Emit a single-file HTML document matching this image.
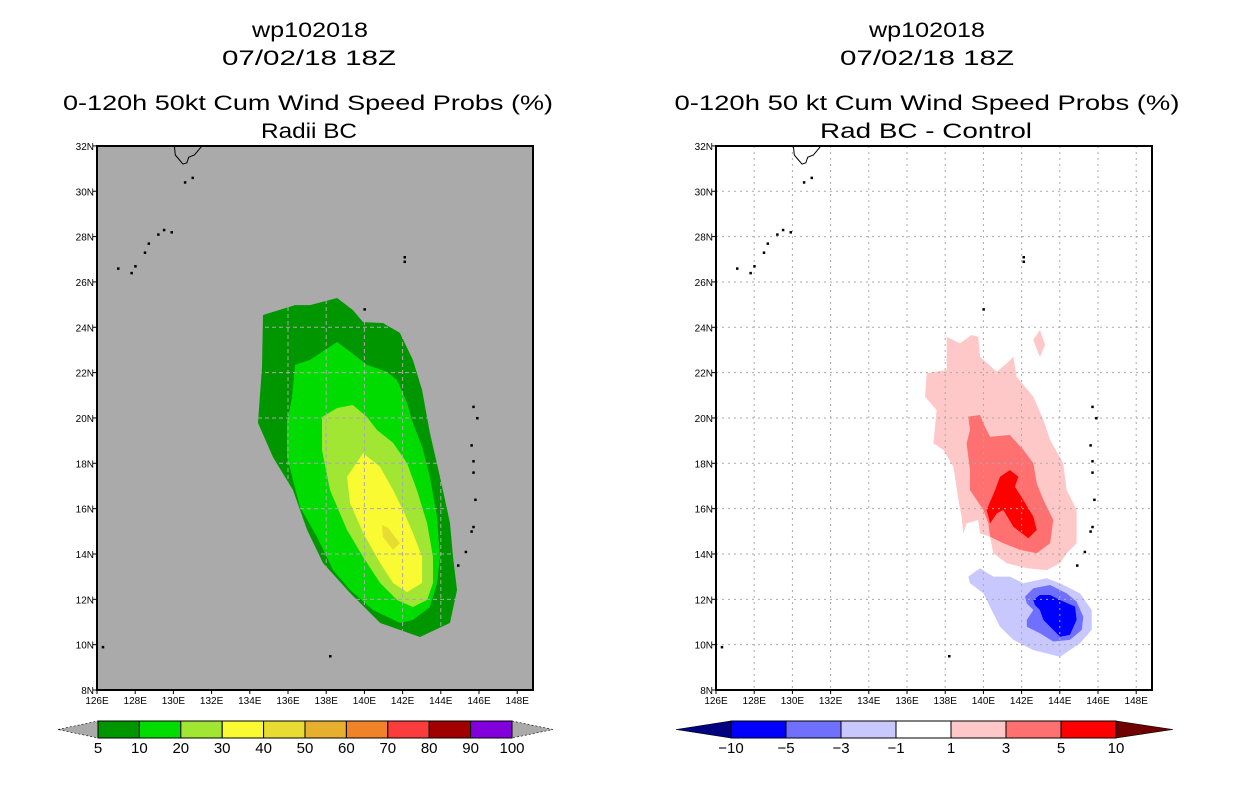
<!DOCTYPE html>
<html><head><meta charset="utf-8"><style>
html,body{margin:0;padding:0;background:#fff;}
svg{display:block;font-family:"Liberation Sans",sans-serif;}
</style></head><body>
<svg id="fig" width="1236" height="800" viewBox="0 0 1236 800">
<g font-size="21" text-anchor="middle" fill="#000">
<text x="310" y="37" textLength="116" lengthAdjust="spacingAndGlyphs">wp102018</text>
<text x="309" y="65" textLength="174" lengthAdjust="spacingAndGlyphs">07/02/18 18Z</text>
<text x="308" y="110" textLength="490" lengthAdjust="spacingAndGlyphs">0-120h 50kt Cum Wind Speed Probs (%)</text>
<text x="309" y="138" textLength="96" lengthAdjust="spacingAndGlyphs">Radii BC</text>
</g>
<g font-size="21" text-anchor="middle" fill="#000">
<text x="927" y="37" textLength="116" lengthAdjust="spacingAndGlyphs">wp102018</text>
<text x="927" y="65" textLength="174" lengthAdjust="spacingAndGlyphs">07/02/18 18Z</text>
<text x="927" y="110" textLength="505" lengthAdjust="spacingAndGlyphs">0-120h 50 kt Cum Wind Speed Probs (%)</text>
<text x="926" y="138" textLength="212" lengthAdjust="spacingAndGlyphs">Rad BC - Control</text>
</g>
<g id="leftMap"></g>
<g id="rightMap"></g>
<g id="leftBar"></g>
<g id="rightBar"></g>
</svg>
<script>
// ---- data (lon, lat) ----
const lonTicks = [126,128,130,132,134,136,138,140,142,144,146,148];
const latTicks = [8,10,12,14,16,18,20,22,24,26,28,30,32];
const probLevels = ['5','10','20','30','40','50','60','70','80','90','100'];
const probColors = ['#009600','#00dc00','#a0e632','#fafa32','#e6dc32','#e6af2d','#f08228','#fa3c3c','#a00000','#8200dc'];
const diffLevels = ['-10','-5','-3','-1','1','3','5','10'];
const diffColors = ['#0000ff','#7070ff','#c8c8ff','#ffffff','#ffc8c8','#ff7070','#ff0000'];
const prob5 = [[134.69,24.54],[136.37,24.98],[137.15,24.98],[138.57,25.29],[139.40,24.76],[139.93,24.23],[140.97,24.19],[141.86,23.75],[142.54,22.56],[143.02,21.23],[143.43,19.34],[143.96,17.40],[144.48,15.37],[144.64,13.87],[144.85,12.41],[144.48,10.96],[142.91,10.34],[140.82,10.96],[139.25,12.28],[137.83,13.60],[137.0,15.06],[136.26,16.82],[135.21,18.28],[134.43,19.78],[134.64,22.25]];
const prob10 = [[136.37,22.34],[137.15,22.56],[138.57,23.35],[139.61,22.69],[140.14,22.34],[141.18,22.03],[141.71,21.67],[142.23,20.66],[142.54,19.78],[143.02,18.72],[143.43,17.40],[143.80,15.63],[143.96,13.87],[143.80,12.72],[143.43,11.66],[142.54,11.09],[141.86,10.96],[140.45,11.53],[139.25,12.41],[138.36,13.29],[137.52,14.75],[136.63,16.07],[135.95,18.28],[135.95,19.78],[136.21,20.92]];
const prob20 = [[137.78,20.04],[138.57,20.44],[139.40,20.57],[140.14,20.04],[140.66,19.47],[141.50,18.90],[142.23,18.01],[142.75,16.82],[143.28,15.37],[143.59,13.87],[143.59,12.72],[143.28,11.97],[142.54,11.66],[141.71,11.97],[140.82,12.72],[139.93,13.87],[139.09,15.06],[138.20,16.82],[137.78,18.59]];
const prob30 = [[139.09,17.40],[139.93,18.45],[140.82,17.84],[141.50,16.82],[142.02,15.94],[142.54,14.93],[143.02,13.87],[143.02,12.72],[142.23,12.32],[141.50,12.72],[140.82,13.60],[139.93,14.93],[139.25,16.25]];
const prob40 = [[140.92,15.28],[141.24,15.15],[141.86,14.48],[141.50,14.18],[140.97,14.75]];
const diffP1 = [[138.08,23.58],[138.77,23.29],[139.39,23.66],[139.73,23.58],[139.82,22.70],[140.70,22.04],[141.22,22.41],[141.57,22.70],[141.74,21.82],[142.61,20.94],[143.14,19.91],[143.49,19.03],[144.18,18.00],[144.36,16.82],[144.88,15.94],[144.88,14.47],[144.36,14.03],[144.01,13.59],[143.31,13.29],[142.27,13.37],[141.22,13.59],[140.52,14.03],[140.35,14.76],[139.82,14.91],[139.73,15.50],[139.12,15.35],[138.95,14.91],[138.86,15.64],[138.69,16.38],[138.43,17.85],[137.90,18.59],[137.38,18.88],[137.55,20.35],[136.94,20.94],[137.03,21.97],[138.08,22.12]];
const diffP1b = [[142.60,23.44],[142.96,23.88],[143.23,23.22],[142.96,22.69]];
const diffP3 = [[139.21,20.06],[139.82,20.13],[140.08,19.61],[140.35,19.17],[141.39,19.25],[142.09,18.59],[142.61,18.00],[142.79,17.12],[143.14,16.38],[143.66,15.50],[143.49,14.47],[142.79,14.03],[141.92,14.18],[141.04,14.47],[140.35,14.76],[140.26,15.35],[140.00,15.94],[139.30,16.82],[139.30,17.70],[139.12,18.88],[139.30,19.47]];
const diffP5 = [[140.87,17.41],[141.39,17.70],[141.83,17.41],[141.65,16.97],[142.09,16.38],[142.61,15.64],[142.79,15.06],[142.35,14.69],[141.57,15.20],[141.04,15.94],[140.70,15.79],[140.35,15.35],[140.17,15.94],[140.61,16.82]];
const diffM1 = [[139.21,13.00],[139.82,13.37],[140.52,13.00],[141.39,13.00],[142.09,12.71],[143.31,12.93],[144.01,12.71],[145.06,12.26],[145.67,11.53],[145.67,10.65],[145.06,10.06],[144.01,9.47],[142.61,9.76],[141.57,10.21],[140.87,10.79],[140.52,11.38],[140.00,12.27],[139.30,12.71]];
const diffM3 = [[142.18,12.12],[142.61,12.49],[143.49,12.63],[144.36,12.26],[144.88,11.90],[145.23,11.23],[145.15,10.65],[144.53,10.21],[143.66,10.14],[142.96,10.50],[142.27,10.79],[142.27,11.09],[142.61,11.53],[142.27,11.82]];
const diffM5 = [[142.61,11.97],[142.96,12.19],[143.49,12.19],[144.01,11.97],[144.80,11.68],[144.88,11.09],[144.53,10.43],[144.01,10.35],[143.66,10.65],[143.14,11.09],[142.96,11.53],[142.70,11.75]];
const kyushu = [[130.05,32.0],[130.1,31.6],[130.3,31.4],[130.5,31.2],[130.7,31.25],[130.8,31.5],[131.1,31.6],[131.4,31.9],[131.5,32.0]];
const islands = [[130.6,30.4],[131.0,30.6],[129.5,28.3],[129.2,28.1],[129.9,28.2],[128.7,27.7],[128.5,27.3],[128.0,26.7],[127.8,26.4],[127.1,26.6],[142.1,27.1],[142.1,26.9],[140.0,24.8],[145.7,20.5],[145.9,20.0],[145.6,18.8],[145.7,18.1],[145.7,17.6],[145.8,16.4],[145.7,15.2],[145.6,15.0],[145.3,14.1],[144.9,13.5],[138.2,9.5],[126.3,9.9]];
// ---- helpers ----
const NS='http://www.w3.org/2000/svg';
const yOf = lat => 690 - (lat-8)*22.67;
function mk(tag, parent, attrs){const e=document.createElementNS(NS,tag);for(const k in attrs)e.setAttribute(k,attrs[k]);parent.appendChild(e);return e;}
function drawMap(g, x0, bg, gridColor, gridDash, fills){
  const xOf = lon => x0 + (lon-126)*19.1;
  const bgR = mk('rect', g, {x:x0, y:146, width:436, height:544, fill:bg});
  
  
  fills.forEach(f=>{
    const p = mk('polygon', g, {points:f.pts.map(q=>xOf(q[0]).toFixed(1)+','+yOf(q[1]).toFixed(1)).join(' '), fill:f.color});
    
    
  });
  lonTicks.forEach(lon=>{
    const x=xOf(lon);
    if(lon>126){const l=mk('line',g,{x1:x,y1:146,x2:x,y2:690,stroke:gridColor,'stroke-width':1,'stroke-dasharray':gridDash});
      
      }
    mk('line',g,{x1:x,y1:690,x2:x,y2:694,stroke:'#000'});
    const t=mk('text',g,{x:x,y:704,'font-size':10,'text-anchor':'middle'}); t.textContent=lon+'E';
    
    
  });
  latTicks.forEach(lat=>{
    const y=yOf(lat);
    if(lat>8&&lat<32){const l=mk('line',g,{x1:x0,y1:y,x2:x0+436,y2:y,stroke:gridColor,'stroke-width':1,'stroke-dasharray':gridDash});
      
      }
    mk('line',g,{x1:x0-4,y1:y,x2:x0,y2:y,stroke:'#000'});
    const t=mk('text',g,{x:x0-3,y:y+4,'font-size':10,'text-anchor':'end'}); t.textContent=lat+'N';
    
    
  });
  const c=mk('polyline',g,{points:kyushu.map(q=>xOf(q[0]).toFixed(1)+','+yOf(q[1]).toFixed(1)).join(' '),fill:'none',stroke:'#000','stroke-width':1});
  
  
  islands.forEach(q=>{
    const r=mk('rect',g,{x:xOf(q[0])-1,y:yOf(q[1])-1,width:2.5,height:2.5,fill:'#000'});
    
    
  });
  const fr=mk('rect',g,{x:x0,y:146,width:436,height:544,fill:'none',stroke:'#000','stroke-width':2});
  
  
}
drawMap(document.getElementById('leftMap'), 97, '#aaaaaa', '#aaaaaa', '4,3', [
  {pts:prob5,color:probColors[0],name:'contour-5pct'},
  {pts:prob10,color:probColors[1],name:'contour-10pct'},
  {pts:prob20,color:probColors[2],name:'contour-20pct'},
  {pts:prob30,color:probColors[3],name:'contour-30pct'},
  {pts:prob40,color:probColors[4],name:'contour-40pct'}]);
drawMap(document.getElementById('rightMap'), 716, '#ffffff', '#aaaaaa', '2,4', [
  {pts:diffP1,color:diffColors[4],name:'contour-plus1'},
  {pts:diffP1b,color:diffColors[4],name:'contour-plus1-small'},
  {pts:diffP3,color:diffColors[5],name:'contour-plus3'},
  {pts:diffP5,color:diffColors[6],name:'contour-plus5'},
  {pts:diffM1,color:diffColors[2],name:'contour-minus1'},
  {pts:diffM3,color:diffColors[1],name:'contour-minus3'},
  {pts:diffM5,color:diffColors[0],name:'contour-minus5'}]);
function drawBar(g, x0, x1, tipL, tipR, colors, labels, extL, extR){
  const y0=721,y1=738,ym=(y0+y1)/2, w=(x1-x0)/colors.length;
  const a=mk('polygon',g,{points:`${tipL},${ym} ${x0},${y0} ${x0},${y1}`,fill:extL,stroke:'#000','stroke-width':0.6,'stroke-dasharray':extL=='#aaaaaa'?'2,2':'none'});
  
  
  const b=mk('polygon',g,{points:`${tipR},${ym} ${x1},${y0} ${x1},${y1}`,fill:extR,stroke:'#000','stroke-width':0.6,'stroke-dasharray':extR=='#aaaaaa'?'2,2':'none'});
  
  
  colors.forEach((c,i)=>{
    const r=mk('rect',g,{x:x0+i*w,y:y0,width:w,height:y1-y0,fill:c,stroke:'#000','stroke-width':1});
    
    
  });
  labels.forEach((l,i)=>{
    const t=mk('text',g,{x:x0+i*w,y:753,'font-size':15,'text-anchor':'middle'}); t.textContent=l.replace('-','\u2212');
    
    
  });
}
drawBar(document.getElementById('leftBar'), 98, 512, 58, 553, probColors, probLevels, '#aaaaaa', '#aaaaaa');
drawBar(document.getElementById('rightBar'), 731, 1116, 676, 1173, diffColors, diffLevels, '#000080', '#700000');
</script>
</body></html>
